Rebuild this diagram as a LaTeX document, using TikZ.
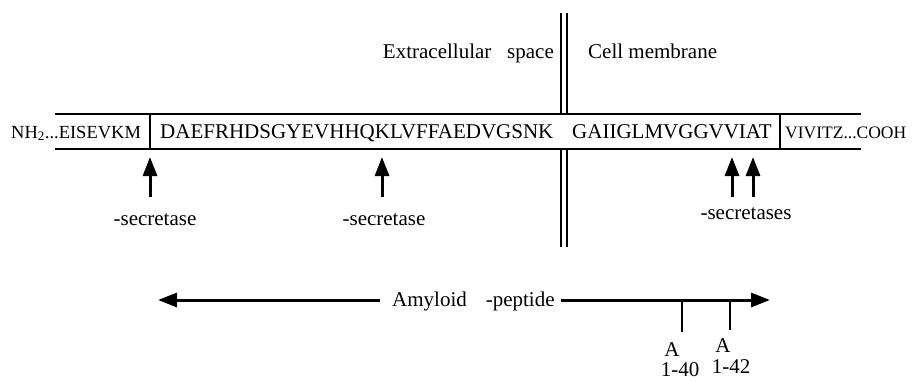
\documentclass[tikz,border=0pt]{standalone}
\usepackage{fontspec}
\setmainfont{Liberation Serif}
\usetikzlibrary{arrows.meta}
\tikzset{
  seq/.style={font=\fontsize{21}{24}\selectfont, inner sep=0pt, anchor=base west},
  seqend/.style={font=\fontsize{18.5}{21}\selectfont, inner sep=0pt, anchor=base west},
  seqtail/.style={font=\fontsize{17.5}{20}\selectfont, inner sep=0pt, anchor=base west},
  lbl/.style={font=\fontsize{21}{24}\selectfont, inner sep=0pt},
  boxline/.style={line width=2.4pt},
  membrane/.style={line width=2.2pt},
  cut/.style={line width=3pt, -{Triangle[length=19pt,width=14pt]}},
  span/.style={line width=3pt, -{Triangle[length=19pt,width=14pt]}},
  tick/.style={line width=2.6pt},
}
\begin{document}
\begin{tikzpicture}[x=1pt,y=-1pt]
\useasboundingbox (0,0) rectangle (915,381);

% peptide strip
\coordinate (tl) at (55,114);
\coordinate (tr) at (861,114);
\coordinate (bl) at (55,149);
\coordinate (br) at (861,149);
\draw[boxline] (tl) -- (tr);
\draw[boxline] (bl) -- (br);
\coordinate (d1t) at (150,114);
\coordinate (d1b) at (150,149);
\coordinate (d2t) at (780,114);
\coordinate (d2b) at (780,149);
\draw[boxline] (d1t) -- (d1b);
\draw[boxline] (d2t) -- (d2b);

% sequence text
\node[seqend] (nterm) at (11,138) {NH\textsubscript{2}...EISEVKM};
\node[seq] (abeta1) at (160,138) {DAEFRHDSGYEVHHQKLVFFAEDVGSNK};
\node[seq] (abeta2) at (572,138) {GAIIGLMVGGVVIAT};
\node[seqtail] (cterm) at (785,138) {VIVITZ...COOH};

% membrane boundary (double line)
\foreach \mx in {561,567} {
  \coordinate (mt\mx) at (\mx,13);
  \coordinate (mu\mx) at (\mx,114);
  \coordinate (ml\mx) at (\mx,149);
  \coordinate (mb\mx) at (\mx,247);
  \draw[membrane] (mt\mx) -- (mu\mx);
  \draw[membrane] (ml\mx) -- (mb\mx);
}
\node[lbl, anchor=base east] (extra) at (554,58) {Extracellular\hspace{0.5em} space};
\node[lbl, anchor=base west] (cellm) at (588,58) {Cell membrane};

% secretase cleavage sites
\foreach \cx/\nm in {150/a,382/b,732/c,753/d} {
  \coordinate (cs\nm) at (\cx,197);
  \coordinate (ce\nm) at (\cx,157);
  \draw[cut] (cs\nm) -- (ce\nm);
}
\node[lbl, anchor=base] (alpha) at (155,225) {-secretase};
\node[lbl, anchor=base] (beta) at (384,225) {-secretase};
\node[lbl, anchor=base] (gamma) at (746,219) {-secretases};

% amyloid peptide span
\node[lbl, anchor=base west] (amy) at (392,306) {Amyloid\hspace{0.9em}-peptide};
\coordinate (lend) at (158,300);
\coordinate (rend) at (770,300);
\draw[span] (amy.west |- lend) ++(-12,0) coordinate (ls) -- (lend);
\draw[span] (amy.east |- rend) ++(6,0) coordinate (rs) -- (rend);

% C-terminal variants
\coordinate (t1a) at (682,300);
\coordinate (t1b) at (682,332);
\coordinate (t2a) at (730,300);
\coordinate (t2b) at (730,330);
\draw[tick] (t1a) -- (t1b);
\draw[tick] (t2a) -- (t2b);
\node[lbl, anchor=base] (a40) at (672,356) {A};
\node[lbl, anchor=base] (n40) at (680,376) {1-40};
\node[lbl, anchor=base] (a42) at (723,352) {A};
\node[lbl, anchor=base] (n42) at (731,373) {1-42};
\end{tikzpicture}
\end{document}
